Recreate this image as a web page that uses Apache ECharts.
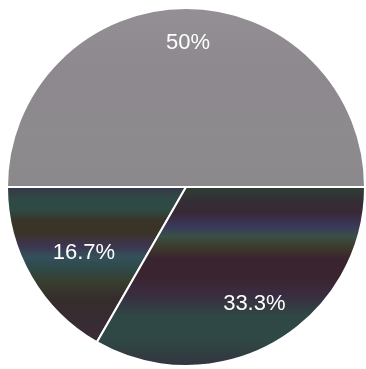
<!DOCTYPE html>
<html>
<head>
<meta charset="utf-8">
<script src="https://cdn.jsdelivr.net/npm/echarts@6/dist/echarts.min.js"></script>
<style>html,body{margin:0;padding:0;background:#fff}#c{width:366px;height:369px}</style>
</head>
<body>
<div id="c"></div>
<script>
const categories = ['A', 'B', 'C'];
const values = [50, 16.7, 33.3];
const labels = ['50%', '16.7%', '33.3%'];

function grad(stops) {
  return { type: 'linear', x: 0, y: 0, x2: 0, y2: 1,
    colorStops: stops.map(s => ({ offset: s[0], color: s[1] })) };
}
const fills = [
  grad([[0, '#948f94'], [0.4, '#8c888d'], [0.7, '#8e8b8f'], [1, '#8b888c']]),
  grad([[0, '#36344a'], [0.08, '#2f4a44'], [0.15, '#2f4a44'], [0.22, '#3a3428'], [0.3, '#3a3428'],
        [0.38, '#3d3550'], [0.45, '#34505a'], [0.52, '#2f4a4a'], [0.6, '#37402f'], [0.72, '#352c2c'], [1, '#3a2b3a']]),
  grad([[0, '#2f3f33'], [0.08, '#332f35'], [0.15, '#3a2838'], [0.22, '#39385a'], [0.28, '#3a5045'],
        [0.34, '#3c3a2a'], [0.4, '#3a2430'], [0.5, '#3a2430'], [0.6, '#3a2c40'], [0.72, '#2f4845'],
        [0.85, '#2f4845'], [1, '#33343e']])
];
const offsets = [[2, -52], [-22, 20], [22, 37]];

const chart = echarts.init(document.getElementById('c'), null, { renderer: 'canvas' });
chart.setOption({
  animation: false,
  series: [{
    type: 'pie',
    center: [186, 187],
    radius: 179,
    startAngle: 0,
    clockwise: false,
    label: {
      show: true, position: 'inside', color: '#ffffff',
      fontFamily: 'Liberation Sans, Arial, sans-serif', fontSize: 22,
      formatter: p => labels[p.dataIndex]
    },
    labelLayout: p => ({ dx: offsets[p.dataIndex][0], dy: offsets[p.dataIndex][1] }),
    labelLine: { show: false },
    itemStyle: { borderColor: '#ffffff', borderWidth: 2 },
    emphasis: { disabled: true },
    data: categories.map((c, i) => ({ name: c, value: values[i], itemStyle: { color: fills[i] } }))
  }]
});
</script>
</body>
</html>
